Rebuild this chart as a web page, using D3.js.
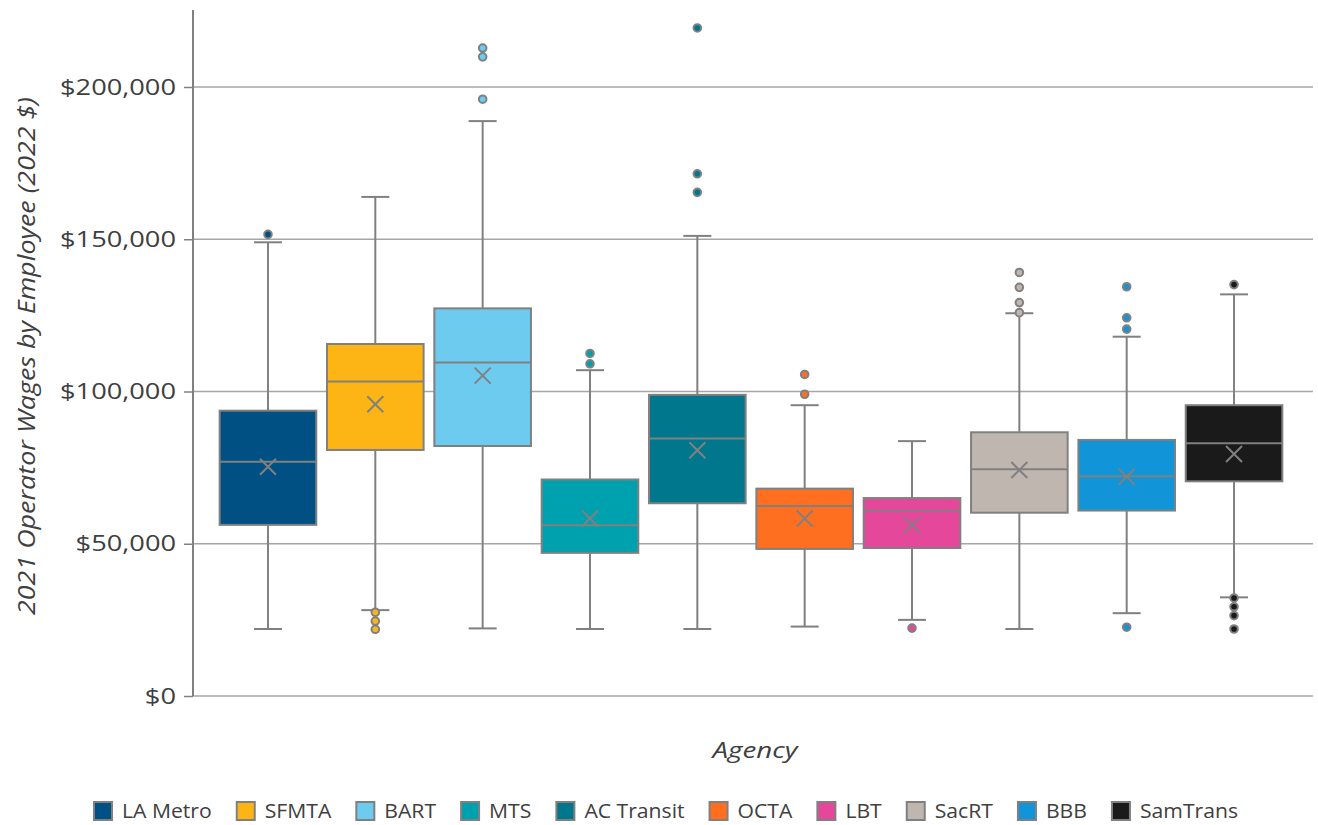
<!DOCTYPE html>
<html><head><meta charset="utf-8">
<script src="https://cdn.jsdelivr.net/npm/d3@7"></script>
<style>body{margin:0;background:#fff}svg{display:block}</style>
</head><body><svg id="c" width="1318" height="825"></svg>
<script>
const agencies = ["LA Metro","SFMTA","BART","MTS","AC Transit","OCTA","LBT","SacRT","BBB","SamTrans"];
const colors   = ["#005083","#FDB515","#6ECBF0","#00A1AE","#00778C","#FF6F1F","#E5489A","#BFB6AF","#1194D8","#1A1A1A"];
const q1       = [56200, 80800, 82100, 47000, 63300, 48300, 48600, 60200, 60900, 70500];
const median   = [76900, 103300, 109500, 56100, 84600, 62400, 60800, 74500, 72200, 83000];
const q3       = [93700, 115600, 127300, 71100, 98900, 68100, 65000, 86600, 84100, 95500];
const mean     = [75300, 95800, 105200, 58300, 80700, 58300, 56200, 74200, 72000, 79500];
const whiskLo  = [22000, 28200, 22200, 22000, 22000, 22800, 25000, 22000, 27200, 32400];
const whiskHi  = [149000, 163900, 188800, 107000, 151100, 95500, 83700, 125700, 118000, 131900];
const outliers = [
  [151600],
  [27500, 24600, 21900],
  [196000, 209900, 212800],
  [112500, 109100],
  [219400, 171500, 165400],
  [105600, 99100],
  [22300],
  [139100, 134200, 129200, 125900],
  [134400, 124200, 120500, 22600],
  [135100, 32200, 29300, 26400, 22000]
];
const yTicks = [0, 50000, 100000, 150000, 200000];

const svg = d3.select("#c");
const font = "'Open Sans', 'Noto Sans', sans-serif";
const gray = "#808080";
const txt = "#404040";
const y = d3.scaleLinear().domain([0, 200000]).range([696, 87]);
const x = d3.scaleBand().domain(agencies).range([214.3, 1287.7]).padding(0);
const bw = x.bandwidth() * 0.9;
const plotL = 193, plotR = 1313, plotT = 10;

function stretch(sel, k) {
  sel.each(function () {
    const w = this.getComputedTextLength();
    d3.select(this).attr("textLength", w * k).attr("lengthAdjust", "spacingAndGlyphs");
  });
}

// gridlines
svg.append("g").selectAll("line").data(yTicks).join("line")
  .attr("x1", plotL).attr("x2", plotR)
  .attr("y1", d => y(d)).attr("y2", d => y(d))
  .attr("stroke", "#a6a6a6").attr("stroke-width", 1.5);

// y axis
const yAxis = d3.axisLeft(y).tickValues(yTicks).tickSize(9).tickPadding(8)
  .tickFormat(d => "$" + d3.format(",")(d));
const ga = svg.append("g").attr("transform", `translate(${plotL},0)`).call(yAxis);
ga.select(".domain").remove();
ga.selectAll(".tick line").attr("stroke", gray).attr("stroke-width", 1.5);
const tickTexts = ga.selectAll(".tick text").attr("font-family", font).attr("font-size", 22).attr("fill", txt);
{
  const ref = tickTexts.filter(d => d === 200000).node().getComputedTextLength();
  stretch(tickTexts, 116 / ref);
}
svg.append("line").attr("x1", plotL).attr("x2", plotL).attr("y1", plotT).attr("y2", y(0))
  .attr("stroke", gray).attr("stroke-width", 2);

// boxes
const g = svg.append("g");
agencies.forEach((a, i) => {
  const cx = x(a) + x.bandwidth() / 2;
  const gg = g.append("g");
  const cap = 28;
  gg.append("line").attr("x1", cx).attr("x2", cx).attr("y1", y(q3[i])).attr("y2", y(whiskHi[i]))
    .attr("stroke", gray).attr("stroke-width", 2);
  gg.append("line").attr("x1", cx).attr("x2", cx).attr("y1", y(q1[i])).attr("y2", y(whiskLo[i]))
    .attr("stroke", gray).attr("stroke-width", 2);
  [whiskHi[i], whiskLo[i]].forEach(v => gg.append("line")
    .attr("x1", cx - cap / 2).attr("x2", cx + cap / 2).attr("y1", y(v)).attr("y2", y(v))
    .attr("stroke", gray).attr("stroke-width", 2));
  gg.append("rect").attr("x", cx - bw / 2).attr("width", bw)
    .attr("y", y(q3[i])).attr("height", y(q1[i]) - y(q3[i]))
    .attr("fill", colors[i]).attr("stroke", gray).attr("stroke-width", 2);
  gg.append("line").attr("x1", cx - bw / 2).attr("x2", cx + bw / 2)
    .attr("y1", y(median[i])).attr("y2", y(median[i]))
    .attr("stroke", gray).attr("stroke-width", 2);
  const my = y(mean[i]), s = 8;
  gg.append("path").attr("d", `M${cx - s},${my - s}L${cx + s},${my + s}M${cx - s},${my + s}L${cx + s},${my - s}`)
    .attr("stroke", gray).attr("stroke-width", 2).attr("fill", "none");
  gg.selectAll("circle").data(outliers[i]).join("circle")
    .attr("cx", cx).attr("cy", d => y(d)).attr("r", 3.8)
    .attr("fill", colors[i]).attr("stroke", gray).attr("stroke-width", 2);
});

// axis titles
svg.append("text").attr("x", 755).attr("y", 758).attr("text-anchor", "middle")
  .attr("font-family", font).attr("font-size", 22).attr("font-style", "italic").attr("fill", txt)
  .attr("textLength", 85).attr("lengthAdjust", "spacingAndGlyphs")
  .text("Agency");
svg.append("text").attr("transform", "translate(35,356) rotate(-90)").attr("text-anchor", "middle")
  .attr("font-family", font).attr("font-size", 23).attr("font-style", "italic").attr("fill", txt)
  .attr("textLength", 518).attr("lengthAdjust", "spacingAndGlyphs")
  .text("2021 Operator Wages by Employee (2022 $)");

// legend: spans x 93 -> 1238
const lg = svg.append("g").attr("transform", "translate(93,811)");
const sq = 29, gap = 24, legW = 1238 - 93;
const items = agencies.map((a, i) => {
  const it = lg.append("g");
  it.append("rect").attr("x", 1).attr("y", -9).attr("width", 18).attr("height", 18)
    .attr("fill", colors[i]).attr("stroke", gray).attr("stroke-width", 2);
  const t = it.append("text").attr("x", sq).attr("y", 7).attr("font-family", font)
    .attr("font-size", 20).attr("fill", txt).text(a);
  return { it, t, w: t.node().getComputedTextLength() };
});
const natural = d3.sum(items, d => d.w);
const kLeg = (legW - agencies.length * sq - (agencies.length - 1) * gap) / natural;
let lx = 0;
items.forEach(d => {
  d.it.attr("transform", `translate(${lx},0)`);
  d.t.attr("textLength", d.w * kLeg).attr("lengthAdjust", "spacingAndGlyphs");
  lx += sq + d.w * kLeg + gap;
});
</script></body></html>
